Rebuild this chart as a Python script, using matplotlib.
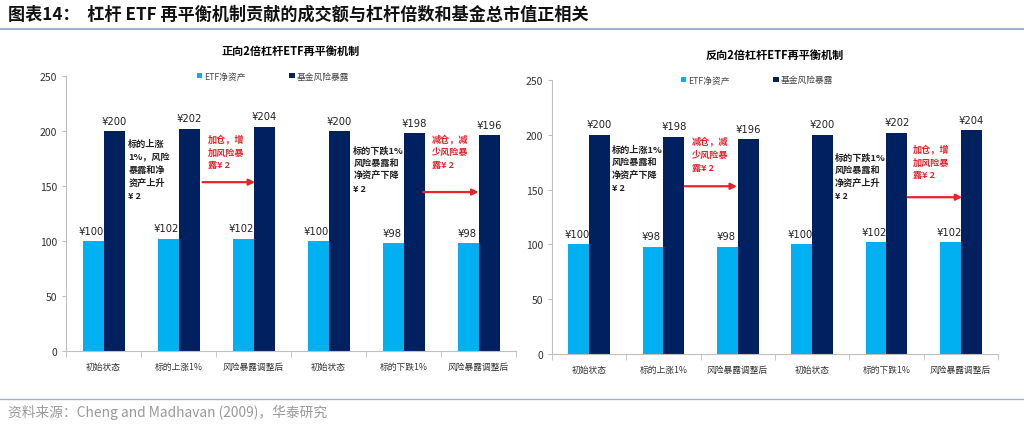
import matplotlib
matplotlib.use("Agg")
import matplotlib.pyplot as plt
import numpy as np

plt.rcParams['font.family'] = ['Noto Sans CJK SC', 'DejaVu Sans']

# data
categories = ["初始状态", "标的上涨1%", "风险暴露调整后", "初始状态", "标的下跌1%", "风险暴露调整后"]
series_names = ["ETF净资产", "基金风险暴露"]

long_assets = [100, 102, 102, 100, 98, 98]
long_exposure = [200, 202, 204, 200, 198, 196]

short_assets = [100, 98, 98, 100, 102, 102]
short_exposure = [200, 198, 196, 200, 202, 204]

long_notes = ["标的上涨\n1%，风险\n暴露和净\n资产上升\n¥ 2", "标的下跌1%，\n风险暴露和\n净资产下降\n¥ 2"]
long_red = ["加仓，增\n加风险暴\n露¥ 2", "减仓，减\n少风险暴\n露¥ 2"]
short_notes = ["标的上涨1%，\n风险暴露和\n净资产下降\n¥ 2", "标的下跌1%，\n风险暴露和\n净资产上升\n¥ 2"]
short_red = ["减仓，减\n少风险暴\n露¥ 2", "加仓，增\n加风险暴\n露¥ 2"]

LIGHT = "#00B0F0"
DARK = "#002060"
GREY = "#BFBFBF"


def draw_panel(ax, title, assets, exposure, notes, reds, note_pos, red_pos, arrows, leg_x):
    x = np.arange(len(categories))
    w = 0.28
    ax.bar(x - w / 2, assets, w, color=LIGHT, label=series_names[0])
    ax.bar(x + w / 2, exposure, w, color=DARK, label=series_names[1])
    for i in range(len(x)):
        ax.text(x[i] - w / 2 - 0.02, assets[i] + 5, "¥%d" % assets[i], ha="center",
                va="bottom", fontsize=7.2, color="#222222", family="DejaVu Sans")
        ax.text(x[i] + w / 2, exposure[i] + 5, "¥%d" % exposure[i], ha="center",
                va="bottom", fontsize=7.2, color="#222222", family="DejaVu Sans")
    for txt, (px, py) in zip(notes, note_pos):
        ax.text(px, py, txt, ha="left", va="top", fontsize=6.6, fontweight="bold",
                color="#222222", linespacing=1.55)
    for txt, (px, py) in zip(reds, red_pos):
        ax.text(px, py, txt, ha="left", va="top", fontsize=6.6, fontweight="bold",
                color="#E8242B", linespacing=1.55)
    for (x0, x1, y) in arrows:
        ax.annotate("", xy=(x1, y), xytext=(x0, y),
                    arrowprops=dict(arrowstyle="-|>", color="#E8242B", lw=1.6,
                                    mutation_scale=9, shrinkA=0, shrinkB=0))
    ax.set_xlim(-0.5, len(x) - 0.5)
    ax.set_ylim(0, 250)
    ax.set_yticks([0, 50, 100, 150, 200, 250])
    ax.tick_params(axis="y", labelsize=7.5, colors="#333333", length=3, color=GREY)
    ax.set_xticks(x)
    ax.set_xticklabels(categories, fontsize=6.3, color="#333333")
    ax.set_xticks(np.arange(-0.5, len(x), 1), minor=True)
    ax.tick_params(axis="x", which="major", length=0, pad=8)
    ax.tick_params(axis="x", which="minor", length=4, color=GREY)
    for s in ["top", "right"]:
        ax.spines[s].set_visible(False)
    for s in ["left", "bottom"]:
        ax.spines[s].set_color(GREY)
    ax.set_title(title, fontsize=8, fontweight="bold", pad=16)
    leg = ax.legend(loc="center", bbox_to_anchor=(leg_x, 1.0), ncol=2, frameon=False,
                    fontsize=6.3, handlelength=0.6, handleheight=0.6, handletextpad=0.2,
                    columnspacing=5)
    for t in leg.get_texts():
        t.set_color("#444444")


fig = plt.figure(figsize=(10.24, 4.31), dpi=100)

ax1 = fig.add_axes([0.0645, 0.1833, 0.4395, 0.638])
draw_panel(ax1, "正向2倍杠杆ETF再平衡机制", long_assets, long_exposure,
           long_notes, long_red,
           [(0.33, 193), (3.33, 188)], [(1.39, 198), (4.38, 198)],
           [(1.32, 2.02, 153.5), (4.26, 5.0, 144.5)], 0.46)

ax2 = fig.add_axes([0.539, 0.1763, 0.4355, 0.636])
draw_panel(ax2, "反向2倍杠杆ETF再平衡机制", short_assets, short_exposure,
           short_notes, short_red,
           [(0.31, 192), (3.31, 185)], [(1.38, 199), (4.36, 192)],
           [(1.29, 1.99, 153), (4.29, 5.02, 143)], 0.46)

fig.text(0.008, 0.967, "图表14：  杠杆 ETF 再平衡机制贡献的成交额与杠杆倍数和基金总市值正相关",
         fontsize=12.3, fontweight="bold", color="#111111", va="center")
fig.add_artist(plt.Line2D([0.0, 1.0], [0.93, 0.93], color="#9FB3CC", lw=1.5))
fig.add_artist(plt.Line2D([0.0, 1.0], [0.072, 0.072], color="#9FB3CC", lw=1.0))
fig.text(0.008, 0.042, "资料来源：Cheng and Madhavan (2009)，华泰研究",
         fontsize=9.9, color="#999999", va="center")

fig.savefig("out.png", dpi=100)
